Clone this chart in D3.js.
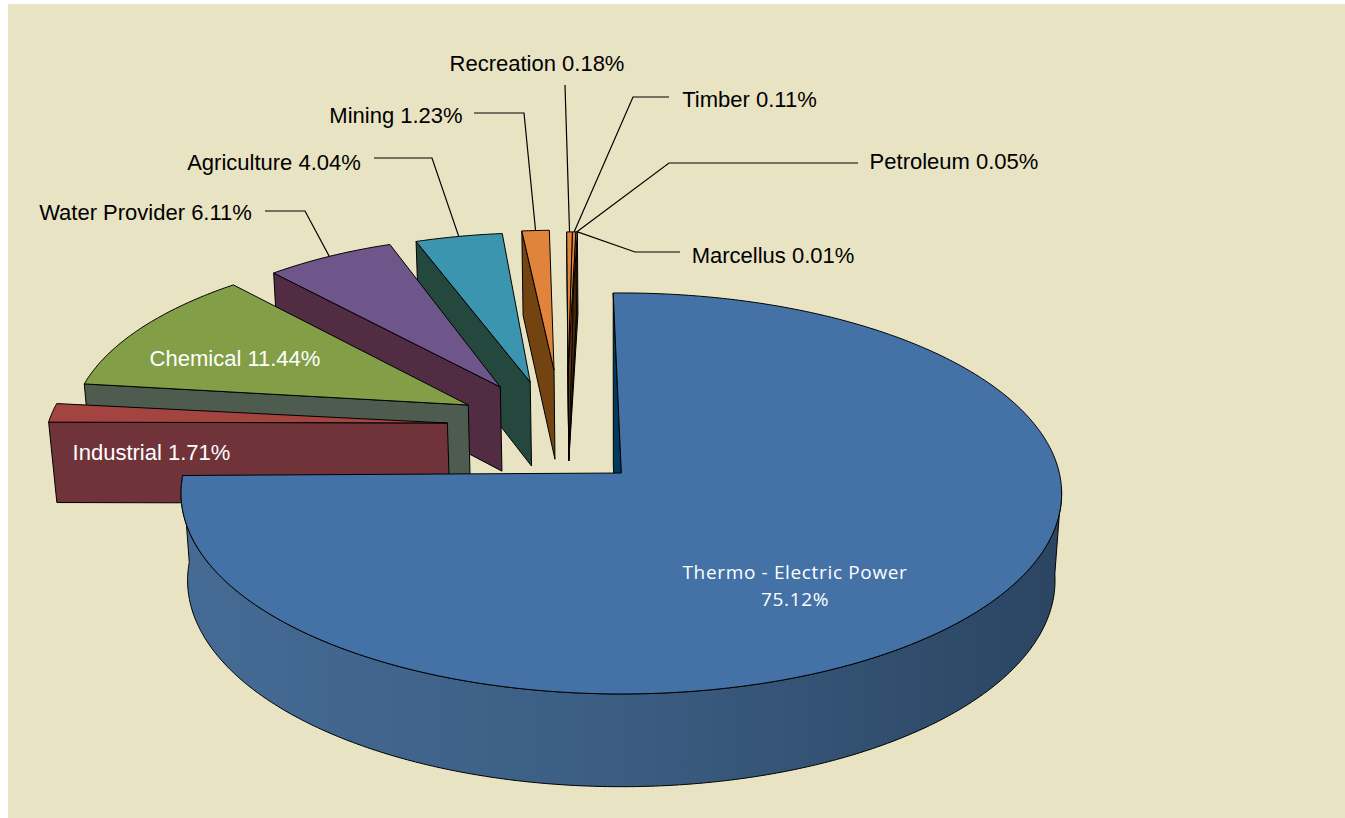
<!DOCTYPE html>
<html><head><meta charset="utf-8">
<script src="https://cdnjs.cloudflare.com/ajax/libs/d3/7.8.5/d3.min.js"></script>
<style>html,body{margin:0;padding:0;background:#fff;overflow:hidden}svg{display:block}</style>
</head><body><svg id="c" width="1345" height="818"></svg>
<script>
// ---- data ----
const categories = ["Thermo - Electric Power","Industrial","Chemical","Water Provider","Agriculture","Mining","Recreation","Timber","Petroleum","Marcellus"];
const shares = [75.12,1.71,11.44,6.11,4.04,1.23,0.18,0.11,0.05,0.01];
const valueLabels = ["75.12%","1.71%","11.44%","6.11%","4.04%","1.23%","0.18%","0.11%","0.05%","0.01%"];
const topColors = ["#4472A6","#A44441","#829E47","#6E558A","#3B95AF","#E0843B","#E0843B","#E0843B","#D9772F","#C96A25"];
const wallColors = ["#003A5E","#71333A","#4E5C4F","#512C42","#24483D","#734412","#734412","#5A340E","#4A2A0A","#3A2008"];
// explosion of each slice in pie-plane units (x, y), its radii, extra turn (degrees) and depth
const explodeX = [0.003,-0.4045,-0.359,-0.286,-0.215,-0.159,-0.125,-0.125,-0.125,-0.125];
const explodeY = [0,-0.2587,-0.355,-0.4535,-0.481,-0.548,-0.53,-0.53,-0.53,-0.53];
const radiusX = [1,0.935,0.93,0.88,0.90,0.93,1.3,1.3,1.3,1.3];
const radiusY = [1,0.93,0.93,0.91,0.90,0.85,0.857,0.857,0.857,0.857];
const turnDeg = [0,1,1.7,0.8,1,0.85,1.8,1.8,1.8,1.8];
const depths = [88,83,88,88,88,94,92,92,92,92];
// label layout
const labelAnchor = [[795,579],[151.5,452],[235,358],[145.5,212],[274,162],[396,115],[537,63],[749.5,99],[954,161],[773,255]];
const leaderKnee = [null,null,null,[305,211],[432,158],[524,113],[565,85],[633,97],[669,163],[635,252]];
const leaderEnd = [null,null,null,[265,211],[374,158],[474,113],[565,85],[669,97],[858,163],[680,252]];

// ---- projection ----
const W=1345,H=818, cx=620, cy=473, perspective=0.102, depthShrink=0.015;
const sx=d3.scaleLinear().domain([-1,1]).range([-438,438]);
const sy=d3.scaleLinear().domain([-1,1]).range([-198.4,198.4]);
function proj(X,Y,z){const den=1-perspective*Y+depthShrink*(z?1:0);return [cx+sx(X)/den, cy+(sy(Y)+z)/den];}

const svg=d3.select("#c");
const defs=svg.append("defs");
const grad=defs.append("linearGradient").attr("id","mainWall").attr("gradientUnits","userSpaceOnUse")
 .attr("x1",182).attr("x2",1061).attr("y1",0).attr("y2",0);
grad.append("stop").attr("offset",0).attr("stop-color","#456B95");
grad.append("stop").attr("offset",0.5).attr("stop-color","#3B5D82");
grad.append("stop").attr("offset",1).attr("stop-color","#2B4562");

svg.append("rect").attr("x",8).attr("y",4).attr("width",W-8).attr("height",H-4).attr("fill","#E8E3C2");

const rot0=-1.15*Math.PI/180;
const arcs=d3.pie().sort(null).startAngle(rot0).endAngle(rot0+2*Math.PI)(shares);
const line=d3.line();

function pt(i,a,z,r=1){const t=a+turnDeg[i]*Math.PI/180;return proj(explodeX[i]+r*radiusX[i]*Math.sin(t),explodeY[i]-r*radiusY[i]*Math.cos(t),z);}
function arcPts(i,a0,a1,z){const n=Math.max(2,Math.ceil(Math.abs(a1-a0)/0.01));return d3.range(n+1).map(t=>pt(i,a0+(a1-a0)*t/n,z));}
function draw(d,fill){return svg.append("path").attr("d",d).attr("fill",fill).attr("stroke","#000").attr("stroke-width",1).attr("stroke-linejoin","round");}

// leader lines first, under the slices
categories.forEach((c,i)=>{
  if(!leaderKnee[i])return;
  const a=arcs[i],m=(a.startAngle+a.endAngle)/2;
  const tip=pt(i,m,0);
  svg.append("path").attr("d",line([leaderEnd[i],leaderKnee[i],tip])).attr("fill","none").attr("stroke","#000").attr("stroke-width",1.2);
});

// slices, back to front: smallest last slice first, main slice last
d3.range(categories.length-1,0,-1).forEach(i=>{
  const a=arcs[i],hz=depths[i];
  const wall=[pt(i,a.startAngle,0),pt(i,a.startAngle,0,0),pt(i,a.startAngle,hz,0),pt(i,a.startAngle,hz)];
  draw(line(wall)+"Z",wallColors[i]);
  const top=[pt(i,0,0,0),...arcPts(i,a.startAngle,a.endAngle,0)];
  draw(line(top)+"Z",topColors[i]);
});

// main slice
{
  const a=arcs[0],hz=depths[0];
  const sliver=[pt(0,a.startAngle,0),pt(0,a.startAngle,0,0),pt(0,a.startAngle,hz*2.15,0),pt(0,a.startAngle,hz*2.15)];
  draw(line(sliver)+"Z",wallColors[0]);
  const rimStart=94*Math.PI/180;
  const rim=[...arcPts(0,rimStart,a.endAngle,0),...arcPts(0,a.endAngle,rimStart,hz)];
  draw(line(rim)+"Z","url(#mainWall)");
  const top=[pt(0,0,0,0),...arcPts(0,a.startAngle,a.endAngle,0)];
  draw(line(top)+"Z",topColors[0]);
}

// labels
categories.forEach((c,i)=>{
  const g=svg.append("text").attr("x",labelAnchor[i][0]).attr("y",labelAnchor[i][1]).attr("text-anchor","middle");
  if(i===0){
    g.attr("font-family","'Open Sans',sans-serif").attr("font-size",19).attr("fill","#fff").attr("letter-spacing",0.65);
    g.append("tspan").attr("x",labelAnchor[i][0]).text(c);
    g.append("tspan").attr("x",labelAnchor[i][0]).attr("dy",27).text(valueLabels[i]);
  } else {
    g.attr("font-family","'Liberation Sans',Arial,sans-serif").attr("font-size",22)
     .attr("dy","0.35em").attr("fill",i<3?"#fff":"#000").text(c+" "+valueLabels[i]);
  }
});
</script></body></html>
